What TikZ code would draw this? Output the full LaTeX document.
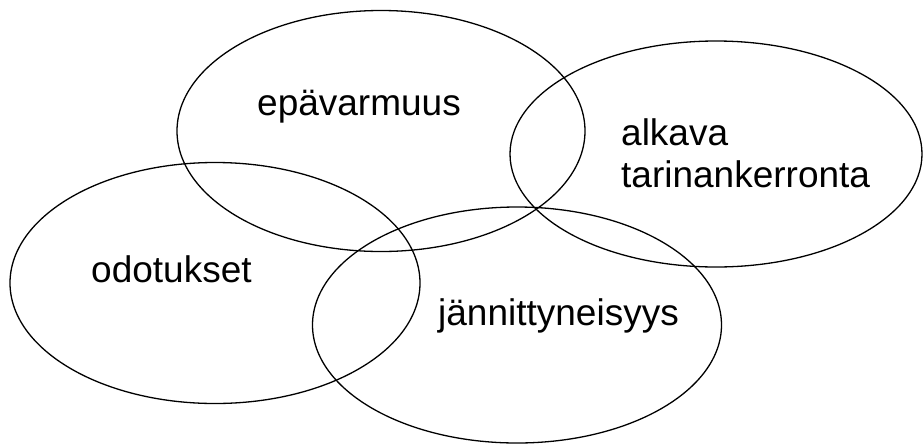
\documentclass[tikz,border=0pt]{standalone}
\usepackage{fontspec}
\setmainfont{Liberation Sans}
\usetikzlibrary{shapes.geometric}

\tikzset{
  ring/.style={draw, ellipse, line width=1.3pt, inner sep=0pt},
  word/.style={anchor=base west, inner sep=0pt, font=\fontsize{37}{42}\selectfont}
}

\begin{document}
\begin{tikzpicture}[x=1pt,y=-1pt]
  \useasboundingbox (0,0) rectangle (923,445);
  % the four ellipses
  \node[ring, minimum width=408pt, minimum height=241pt] (epa) at (381,131) {};
  \node[ring, minimum width=412pt, minimum height=226pt] (alk) at (716,154) {};
  \node[ring, minimum width=410pt, minimum height=241pt] (odo) at (215,283) {};
  \node[ring, minimum width=409pt, minimum height=236pt] (jan) at (517,325) {};
  % words
  \node[word] (epatxt) at (257,115) {epävarmuus};
  \node[word] (alktxt) at (621,145) {alkava};
  \node[word] (tartxt) at (621,187) {tarinankerronta};
  \node[word] (odotxt) at (91,282) {odotukset};
  \node[word] (jantxt) at (438,325) {jännittyneisyys};
\end{tikzpicture}
\end{document}
